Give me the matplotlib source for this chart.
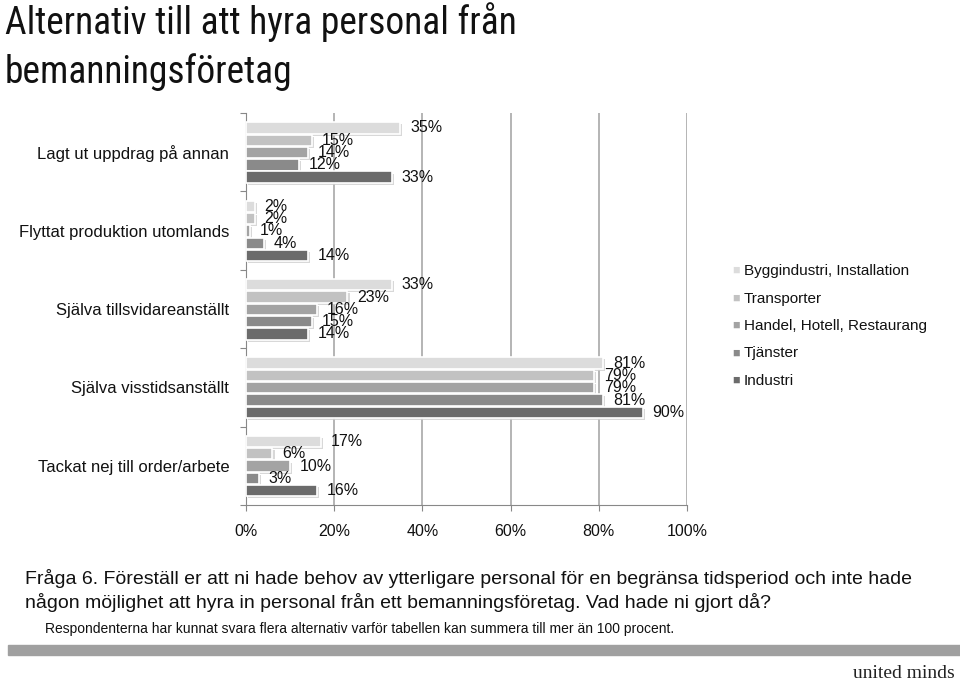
import matplotlib
matplotlib.use("Agg")
import matplotlib.pyplot as plt
import matplotlib.patheffects as pe
from matplotlib import font_manager as fm
import numpy as np

plt.rcParams['font.family'] = ['Liberation Sans', 'DejaVu Sans']

categories = ["Lagt ut uppdrag på annan", "Flyttat produktion utomlands",
              "Själva tillsvidareanställt", "Själva visstidsanställt",
              "Tackat nej till order/arbete"]
series_names = ["Byggindustri, Installation", "Transporter",
                "Handel, Hotell, Restaurang", "Tjänster", "Industri"]
values = {
    "Byggindustri, Installation": [35, 2, 33, 81, 17],
    "Transporter": [15, 2, 23, 79, 6],
    "Handel, Hotell, Restaurang": [14, 1, 16, 79, 10],
    "Tjänster": [12, 4, 15, 81, 3],
    "Industri": [33, 14, 14, 90, 16],
}
xticks = [0, 20, 40, 60, 80, 100]
colors = ["#dcdcdc", "#c2c2c2", "#a3a3a3", "#8a8a8a", "#6b6b6b"]

# pick a condensed family for the title if one is installed
names = {f.name for f in fm.fontManager.ttflist}
title_family = ['Liberation Sans']
for cand in ['Liberation Sans Narrow', 'Roboto Condensed', 'DejaVu Sans Condensed', 'Open Sans Condensed']:
    if cand in names:
        title_family = [cand, 'Liberation Sans']
        break
title_size = 27 if title_family[0] != 'Liberation Sans' else 25

fig = plt.figure(figsize=(9.6, 6.82), dpi=100)
ax = fig.add_axes([246/960, 177/682, 441/960, 392/682])

step = 0.157
h = 0.145
for k, name in enumerate(series_names):
    ys = np.arange(len(categories)) + 0.19 + k*step
    bars = ax.barh(ys, values[name], height=h, color=colors[k],
                   edgecolor='white', linewidth=1.2, zorder=3)
    for b in bars:
        b.set_path_effects([pe.SimplePatchShadow(offset=(1.5, -1.5), shadow_rgbFace='#cfcfcf', alpha=0.8), pe.Normal()])
    for y, v in zip(ys, values[name]):
        ax.annotate(f"{v}%", (v, y), xytext=(7, 0), textcoords='offset points',
                    va='center', ha='left', fontsize=11.5, color='#111111', zorder=5)

ax.set_xlim(0, 100)
ax.set_ylim(len(categories), 0)
ax.set_xticks(xticks)
ax.set_xticklabels([f"{t}%" for t in xticks], fontsize=11.5, color='#111111')
ax.xaxis.grid(True, color='#a8a8a8', linewidth=1.2, zorder=0)
ax.set_axisbelow(True)
ax.set_yticks(np.arange(len(categories)+1))
ax.set_yticklabels([])
ax.set_yticks(np.arange(len(categories)) + 0.5, minor=True)
ax.set_yticklabels(categories, minor=True, fontsize=12, color='#111111')
ax.tick_params(axis='y', which='minor', length=0, pad=12)
ax.tick_params(axis='y', which='major', length=4, color='#888888', direction='out')
ax.tick_params(axis='x', length=4, color='#888888', pad=10)
for s in ['top', 'right']:
    ax.spines[s].set_visible(False)
for s in ['left', 'bottom']:
    ax.spines[s].set_color('#888888')

# legend
for k, name in enumerate(series_names):
    yy = 1 - (271 + k*27.5)/682
    fig.text(732/960, yy, "\u25a0", fontsize=9, color=colors[k], va='center', ha='left')
    fig.text(744/960, yy, name, fontsize=11, color='#111111', va='center', ha='left')

fig.text(5/960, 1 - 22/682, "Alternativ till att hyra personal från", fontsize=title_size,
         family=title_family, va='center', ha='left', color='#111111')
fig.text(5/960, 1 - 72/682, "bemanningsföretag", fontsize=title_size,
         family=title_family, va='center', ha='left', color='#111111')

fig.text(25/960, 1 - 578/682, "Fråga 6. Föreställ er att ni hade behov av ytterligare personal för en begränsa tidsperiod och inte hade",
         fontsize=14, va='center', ha='left', color='#111111')
fig.text(25/960, 1 - 602/682, "någon möjlighet att hyra in personal från ett bemanningsföretag. Vad hade ni gjort då?",
         fontsize=14, va='center', ha='left', color='#111111')
fig.text(45/960, 1 - 629/682, "Respondenterna har kunnat svara flera alternativ varför tabellen kan summera till mer än 100 procent.",
         fontsize=10, va='center', ha='left', color='#111111')

fig.patches.append(matplotlib.patches.Rectangle((8/960, 1 - 655/682), 952/960, 10/682,
                   transform=fig.transFigure, color='#a0a0a0'))
fig.text(955/960, 1 - 673/682, "united minds", fontsize=14, family=['Liberation Serif'],
         va='center', ha='right', color='#222222')

fig.savefig("out.png", dpi=100)
